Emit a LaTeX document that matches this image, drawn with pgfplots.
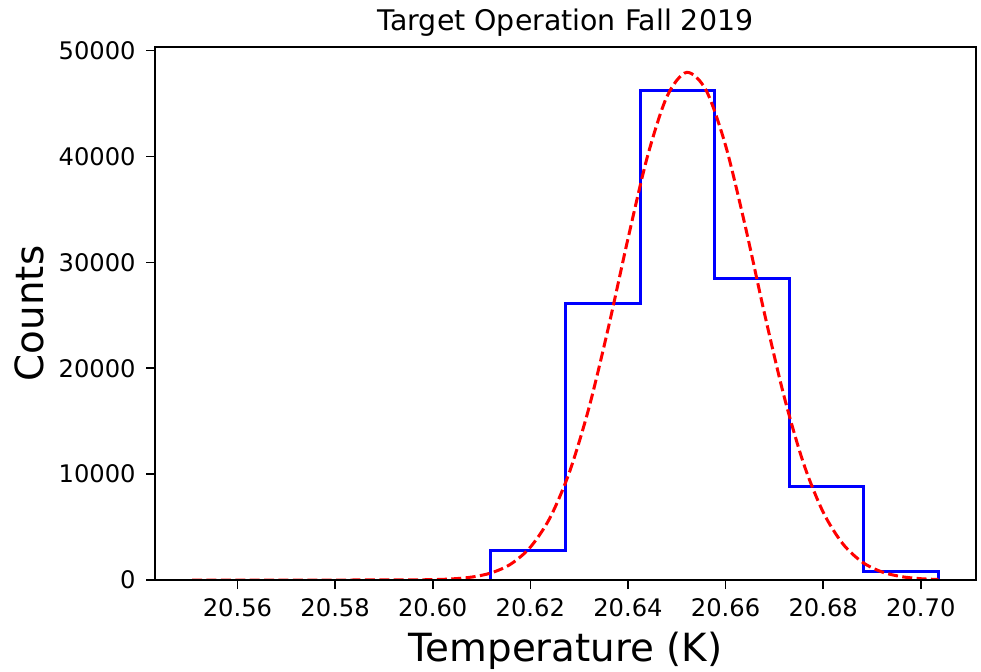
\documentclass[border=0pt]{standalone}
\usepackage{fontspec}
\setmainfont{DejaVu Sans}
\usepackage{pgfplots}
\pgfplotsset{compat=1.18}

\begin{document}
\begin{tikzpicture}
% fixed page frame around the axis box
\path[use as bounding box] (-77.5pt,-45.5pt) rectangle (413pt,290pt);
\begin{axis}[
  scale only axis,
  width=410.5pt, height=266.5pt,
  xmin=20.5431, xmax=20.7113,
  ymin=0, ymax=50340,
  axis on top,
  axis line style={black, line width=0.8pt},
  every tick/.style={black, line width=0.8pt},
  major tick length=4.5pt,
  tick align=outside,
  xtick pos=bottom, ytick pos=left,
  xtick={20.56,20.58,20.60,20.62,20.64,20.66,20.68,20.70},
  xticklabels={20.56,20.58,20.60,20.62,20.64,20.66,20.68,20.70},
  ytick={0,10000,20000,30000,40000,50000},
  yticklabels={0,10000,20000,30000,40000,50000},
  scaled ticks=false,
  tick label style={font=\fontsize{12.1}{14}\selectfont, inner sep=0pt},
  xticklabel shift=4.5pt,
  yticklabel shift=5pt,
  title={Target Operation Fall 2019},
  every axis title/.style={at={(axis description cs:0.5,1)}, anchor=base, yshift=8pt,
    font=\fontsize{14.2}{17}\selectfont},
  xlabel={Temperature (K)},
  every axis x label/.style={at={(axis description cs:0.5,0)}, anchor=base, yshift=-40.85pt,
    font=\fontsize{19.4}{23}\selectfont},
  ylabel={Counts},
  every axis y label/.style={at={(axis description cs:-0.1529,0.5)}, rotate=90, anchor=center,
    font=\fontsize{19.4}{23}\selectfont},
]
% histogram outline (10 bins)
\addplot[blue, line width=1.5pt, line join=miter] coordinates {
  (20.5507,0)
  (20.6119,0) (20.6119,2740)
  (20.6272,2740) (20.6272,26130)
  (20.6425,26130) (20.6425,46230)
  (20.6578,46230) (20.6578,28460)
  (20.6730,28460) (20.6730,8870)
  (20.6883,8870) (20.6883,760)
  (20.7036,760) (20.7036,0)
};
% Gaussian fit
\addplot[red, line width=1.5pt, dash pattern=on 5pt off 2.2pt, smooth] coordinates {
  (20.5507,0) (20.570,0) (20.580,0.05) (20.590,1.8) (20.595,8.6)
  (20.600,36.5) (20.604,105) (20.608,278) (20.612,674) (20.616,1507)
  (20.620,3099) (20.624,5855) (20.628,10176) (20.632,16250) (20.636,23870)
  (20.640,32232) (20.644,40015) (20.648,45677) (20.652,47940) (20.656,46257)
  (20.660,41035) (20.664,33474) (20.668,25102) (20.672,17310) (20.676,10971)
  (20.680,6397) (20.684,3427) (20.688,1689) (20.692,765) (20.696,318)
  (20.700,122) (20.7036,48)
};
\end{axis}
\end{tikzpicture}
\end{document}
